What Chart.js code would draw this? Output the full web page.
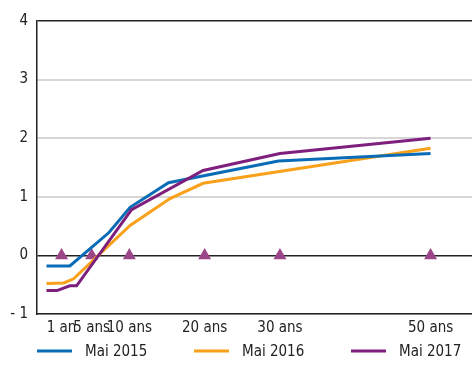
<!DOCTYPE html>
<html lang="fr">
<head>
  <meta charset="UTF-8">
  <title>Courbe des taux</title>
  <script src="https://cdn.jsdelivr.net/npm/chart.js"></script>
  <style>
    body { margin: 0; background: #fff; }
    #chart { display: block; }
  </style>
</head>
<body>
<canvas id="chart" width="472" height="365"></canvas>
<script>
  // maturities (years) shown on the x axis
  const tickYears = [1, 5, 10, 20, 30, 50];
  const tickLabels = ['1 an', '5 ans', '10 ans', '20 ans', '30 ans', '50 ans'];

  // curves: maturity in years, rate in %
  const may2015X = [-1, 2.1, 7.3, 10.1, 15.2, 29.8, 50];
  const may2015Y = [-0.18, -0.18, 0.39, 0.82, 1.24, 1.61, 1.74];

  const may2016X = [-1, 1.3, 2.6, 10.1, 15.4, 19.8, 50];
  const may2016Y = [-0.48, -0.47, -0.40, 0.51, 0.97, 1.23, 1.83];

  const may2017X = [-1, 0.4, 2.1, 3.0, 10.3, 19.8, 30, 50];
  const may2017Y = [-0.60, -0.60, -0.52, -0.52, 0.78, 1.45, 1.74, 2.0];

  // triangle markers on the zero line
  const markerY = [0, 0, 0, 0, 0, 0];

  const legendOrder = ['Mai 2015', 'Mai 2016', 'Mai 2017'];

  const pts = (xs, ys) => xs.map((x, i) => ({ x: x, y: ys[i] }));
  const fontFamily = "'DejaVu Sans Condensed', 'Liberation Sans', sans-serif";
  const font = { family: fontFamily, size: 15 };

  function lineSet(label, xs, ys, color) {
    return {
      type: 'line',
      label: label,
      data: pts(xs, ys),
      borderColor: color,
      backgroundColor: color,
      borderWidth: 3,
      pointRadius: 0,
      tension: 0,
      fill: false
    };
  }

  // legend drawn under the x axis: short line + label, evenly spaced
  const lineLegend = {
    id: 'lineLegend',
    afterDraw(chart) {
      const ctx = chart.ctx;
      const area = chart.chartArea;
      const y = chart.height - 14;
      const step = 157;
      ctx.save();
      ctx.font = '15px ' + fontFamily;
      ctx.textBaseline = 'middle';
      ctx.textAlign = 'left';
      legendOrder.forEach((name, k) => {
        const ds = chart.data.datasets.find(d => d.label === name);
        const x = area.left + k * step;
        ctx.strokeStyle = ds.borderColor;
        ctx.lineWidth = 3;
        ctx.beginPath();
        ctx.moveTo(x, y);
        ctx.lineTo(x + 35, y);
        ctx.stroke();
        ctx.fillStyle = '#222';
        ctx.fillText(name, x + 48, y + 1);
      });
      ctx.restore();
    }
  };

  new Chart(document.getElementById('chart'), {
    type: 'scatter',
    data: {
      datasets: [
        lineSet('Mai 2017', may2017X, may2017Y, '#7e1f7e'),
        lineSet('Mai 2015', may2015X, may2015Y, '#0a6cb6'),
        lineSet('Mai 2016', may2016X, may2016Y, '#f9a11b'),
        {
          label: 'repères',
          data: pts(tickYears, markerY),
          pointStyle: 'triangle',
          pointRadius: 7.5,
          backgroundColor: '#9b4688',
          borderColor: '#9b4688',
          borderWidth: 0,
          showLine: false
        }
      ]
    },
    plugins: [lineLegend],
    options: {
      responsive: false,
      animation: false,
      layout: { autoPadding: false, padding: { left: 0, right: 0, top: 21, bottom: 25 } },
      plugins: {
        tooltip: { enabled: false },
        legend: { display: false }
      },
      scales: {
        x: {
          type: 'linear',
          min: -2.26,
          max: 55.5,
          afterBuildTicks: (scale) => {
            scale.ticks = tickYears.map(v => ({ value: v }));
          },
          afterFit: (scale) => {
            scale.height = 26;
            scale.paddingLeft = 0;
            scale.paddingRight = 0;
          },
          ticks: {
            font: font,
            color: '#222',
            padding: 5,
            autoSkip: false,
            maxRotation: 0,
            callback: (value, index) => tickLabels[index]
          },
          grid: { display: false, drawTicks: false },
          border: { display: true, color: '#222', width: 1.5 }
        },
        y: {
          min: -1,
          max: 4,
          afterFit: (scale) => { scale.width = 37; },
          ticks: {
            stepSize: 1,
            font: font,
            color: '#222',
            padding: 9,
            callback: (v) => v < 0 ? '- ' + (-v) : String(v)
          },
          grid: {
            drawTicks: false,
            color: (ctx) => (ctx.tick.value === 0 || ctx.tick.value === 4) ? '#222' : '#d6d6d6',
            lineWidth: (ctx) => (ctx.tick.value === 0 || ctx.tick.value === 4) ? 1.5 : 2
          },
          border: { display: true, color: '#222', width: 1.5 }
        }
      }
    }
  });
</script>
</body>
</html>
